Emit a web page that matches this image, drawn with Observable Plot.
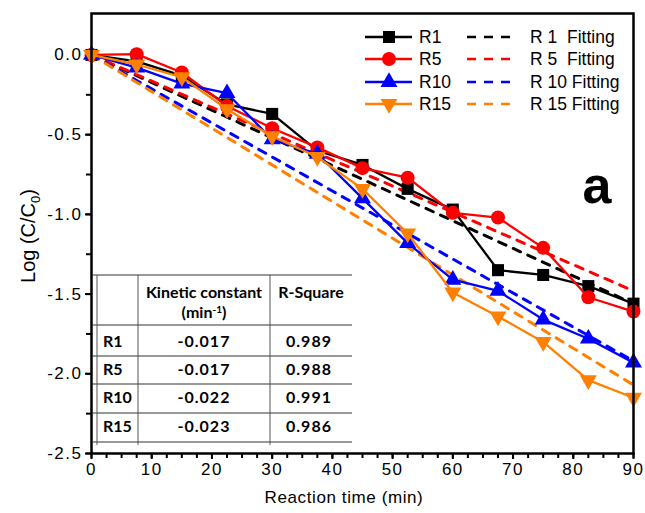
<!DOCTYPE html>
<html><head><meta charset="utf-8">
<script src="https://cdn.jsdelivr.net/npm/d3@7"></script>
<script src="https://cdn.jsdelivr.net/npm/@observablehq/plot@0.6"></script>
<style>body{margin:0;background:#fff} svg{display:block}</style>
</head><body><div id="chart"></div>
<script>
// ---- data ----
const times = [0, 7.5, 15, 22.5, 30, 37.5, 45, 52.5, 60, 67.5, 75, 82.5, 90];
const r1  = [0, -0.04, -0.13, -0.31, -0.37, -0.60, -0.69, -0.84, -0.97, -1.35, -1.38, -1.45, -1.56];
const r5  = [0, 0.005, -0.11, -0.32, -0.46, -0.58, -0.71, -0.77, -0.99, -1.02, -1.21, -1.52, -1.61];
const r10 = [0, -0.08, -0.18, -0.24, -0.53, -0.62, -0.90, -1.18, -1.41, -1.48, -1.66, -1.78, -1.93];
const r15 = [0, -0.06, -0.14, -0.34, -0.51, -0.64, -0.84, -1.12, -1.49, -1.64, -1.80, -2.04, -2.15];
const fitTimes = [0, 90];
const fitR1  = [0, -1.56];
const fitR5  = [0, -1.48];
const fitR10 = [0, -1.92];
const fitR15 = [0, -2.07];
const seriesNames = ["R1", "R5", "R10", "R15"];
const fitNames = ["R 1  Fitting", "R 5  Fitting", "R 10 Fitting", "R 15 Fitting"];
const seriesColors = ["#000000", "#ff0000", "#0000ff", "#ff8000"];
const xTicks = [0, 10, 20, 30, 40, 50, 60, 70, 80, 90];
const xMinor = [0,2.5,5,7.5,10,12.5,15,17.5,20,22.5,25,27.5,30,32.5,35,37.5,40,42.5,45,47.5,50,52.5,55,57.5,60,62.5,65,67.5,70,72.5,75,77.5,80,82.5,85,87.5,90];
const yTicks = [0, -0.5, -1, -1.5, -2, -2.5];
const yMinor = [0, -0.25, -0.5, -0.75, -1, -1.25, -1.5, -1.75, -2, -2.25, -2.5];
const tableRowNames = ["R1", "R5", "R10", "R15"];
const kineticConst = ["-0.017", "-0.017", "-0.022", "-0.023"];
const rSquare = ["0.989", "0.988", "0.991", "0.986"];

// ---- build ----
const allSeries = [r1, r5, r10, r15];
const allFits = [fitR1, fitR5, fitR10, fitR15];
const triDown = {
  draw(ctx, size) {
    const y = -Math.sqrt(size / (Math.sqrt(3) * 3));
    ctx.moveTo(0, -y * 2);
    ctx.lineTo(-Math.sqrt(3) * y, y);
    ctx.lineTo(Math.sqrt(3) * y, y);
    ctx.closePath();
  }
};
const symbols = ["square", "circle", "triangle", triDown];
const d3symbols = [d3.symbolSquare, d3.symbolCircle, d3.symbolTriangle, triDown];
const radii = [6.8, 7, 6.3, 6.3];

const dataSets = allSeries.map((vals, i) => times.map((t, j) => ({t, v: vals[j], s: seriesNames[i]})));
const fitSets = allFits.map((vals, i) => fitTimes.map((t, j) => ({t, v: vals[j], s: seriesNames[i]})));

const marks = [
  Plot.axisX({ticks: xMinor, tickSize: 5, tickFormat: () => "", label: null, strokeWidth: 2}),
  Plot.axisX({ticks: xTicks, tickSize: 6, tickPadding: 3, label: null, strokeWidth: 2}),
  Plot.axisY({ticks: yMinor, tickSize: 5, tickFormat: () => "", label: null, strokeWidth: 2}),
  Plot.axisY({ticks: yTicks, tickSize: 6, tickPadding: 3, tickFormat: d => d.toFixed(1), label: null, strokeWidth: 2})
];
fitSets.forEach((d, i) => marks.push(Plot.line(d, {x: "t", y: "v", stroke: seriesColors[i], strokeWidth: 3, strokeDasharray: "8,8"})));
dataSets.forEach((d, i) => {
  marks.push(Plot.line(d, {x: "t", y: "v", stroke: seriesColors[i], strokeWidth: 2.3}));
  marks.push(Plot.dot(d, {x: "t", y: "v", fill: seriesColors[i], symbol: () => symbols[i], r: radii[i], stroke: "none"}));
});
marks.push(Plot.frame({strokeWidth: 2.5}));

const plot = Plot.plot({
  width: 645, height: 513,
  marginLeft: 91, marginRight: 12, marginTop: 13, marginBottom: 60,
  style: {fontFamily: "'Liberation Sans', Arial, sans-serif", fontSize: "17px", color: "#000", background: "#fff", overflow: "visible"},
  x: {domain: [0, 90]},
  y: {domain: [-2.5, 0.26]},
  symbol: {type: "identity"},
  marks
});
document.getElementById("chart").appendChild(plot);

const svg = d3.select(plot);
svg.selectAll('g[aria-label="x-axis tick label"] text, g[aria-label="y-axis tick label"] text').style("letter-spacing", "1.5px");

// axis titles
svg.append("text").attr("x", 344).attr("y", 503).attr("text-anchor", "middle")
  .style("font-size", "17px").style("letter-spacing", "0.6px").text("Reaction time (min)");
const yt = svg.append("text").attr("transform", "translate(35,236) rotate(-90)").attr("text-anchor", "middle")
  .style("font-size", "20px");
yt.append("tspan").text("Log (C/C");
yt.append("tspan").attr("dy", 5).style("font-size", "13px").text("0");
yt.append("tspan").attr("dy", -5).text(")");

// panel letter
svg.append("text").attr("x", 597).attr("y", 203).attr("text-anchor", "middle")
  .style("font-size", "52px").style("font-weight", "bold").text("a");

// legend
const lg = svg.append("g").attr("text-anchor", "start");
const rowY = [37, 59, 82, 104];
seriesNames.forEach((name, i) => {
  const y = rowY[i];
  lg.append("line").attr("x1", 365).attr("x2", 412).attr("y1", y).attr("y2", y)
    .attr("stroke", seriesColors[i]).attr("stroke-width", 2.3);
  lg.append("path").attr("transform", `translate(389,${y})`)
    .attr("d", d3.symbol(d3symbols[i], Math.PI * radii[i] * radii[i])()).attr("fill", seriesColors[i]);
  lg.append("text").attr("x", 419).attr("y", y + 6).attr("text-anchor", "start").style("font-size", "17.5px").text(name);
  lg.append("line").attr("x1", 467).attr("x2", 512).attr("y1", y).attr("y2", y)
    .attr("stroke", seriesColors[i]).attr("stroke-width", 2.5).attr("stroke-dasharray", "9,8");
  lg.append("text").attr("x", 530).attr("y", y + 6).attr("text-anchor", "start").style("font-size", "17.5px").style("white-space", "pre").text(fitNames[i]);
});

// inset table
const tb = svg.append("g").attr("font-family", "Lato, 'Open Sans', sans-serif").attr("font-weight", "bold").attr("font-size", "16px").attr("text-anchor", "start");
const hLines = [275, 325, 356, 384, 413, 442];
hLines.forEach(y => tb.append("line").attr("x1", 92).attr("x2", 352).attr("y1", y).attr("y2", y).attr("stroke", "#333").attr("stroke-width", 1));
[97, 138, 270].forEach(x => tb.append("line").attr("x1", x).attr("x2", x).attr("y1", 275).attr("y2", 445).attr("stroke", "#555").attr("stroke-width", 1));
tb.append("text").attr("x", 204).attr("y", 298).attr("text-anchor", "middle").text("Kinetic constant");
const mt = tb.append("text").attr("x", 204).attr("y", 318).attr("text-anchor", "middle");
mt.append("tspan").text("(min");
mt.append("tspan").attr("dy", -5).style("font-size", "10px").text("-1");
mt.append("tspan").attr("dy", 5).text(")");
tb.append("text").attr("x", 311).attr("y", 298).attr("text-anchor", "middle").text("R-Square");
const rowTextY = [347, 375, 403, 432];
tableRowNames.forEach((n, i) => {
  tb.append("text").attr("x", 103).attr("y", rowTextY[i]).attr("text-anchor", "start").text(n);
  tb.append("text").attr("x", 204).attr("y", rowTextY[i]).attr("text-anchor", "middle").style("letter-spacing", "1px").text(kineticConst[i]);
  tb.append("text").attr("x", 309).attr("y", rowTextY[i]).attr("text-anchor", "middle").style("letter-spacing", "1px").text(rSquare[i]);
});
</script>
</body></html>
